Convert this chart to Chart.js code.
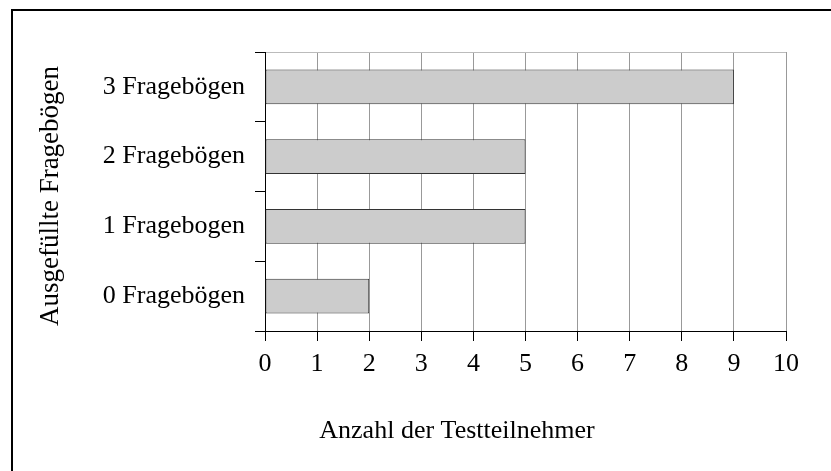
<!DOCTYPE html>
<html lang="de">
<head>
<meta charset="utf-8">
<title>Ausgefüllte Fragebögen</title>
<script src="https://cdn.jsdelivr.net/npm/chart.js@4/dist/chart.umd.min.js"></script>
<style>
    html, body { margin: 0; padding: 0; background: #fff; }
    canvas { display: block; }
</style>
</head>
<body>
<canvas id="fragebogenChart" width="831" height="471"></canvas>
<script>
// Data
const categories = ['3 Fragebögen', '2 Fragebögen', '1 Fragebogen', '0 Fragebögen'];
const participants = [9, 5, 5, 2];
const xTicks = [0, 1, 2, 3, 4, 5, 6, 7, 8, 9, 10];
const xTitle = 'Anzahl der Testteilnehmer';
const yTitle = 'Ausgefüllte Fragebögen';

const FONT = "'Times New Roman', 'Liberation Serif', serif";

// Frame (top + left edge) and the two axis titles
const framePlugin = {
    id: 'frame',
    beforeDraw(chart) {
        const ctx = chart.ctx;
        ctx.save();
        ctx.fillStyle = '#fff';
        ctx.fillRect(0, 0, chart.width, chart.height);
        ctx.fillStyle = '#000';
        ctx.fillRect(11, 9, chart.width - 11, 2);
        ctx.fillRect(11, 9, 2, chart.height - 9);
        ctx.restore();
    },
    afterDraw(chart) {
        const ctx = chart.ctx;
        ctx.save();
        ctx.fillStyle = '#000';
        ctx.textAlign = 'center';
        ctx.textBaseline = 'alphabetic';
        ctx.font = `26px ${FONT}`;
        ctx.fillText(xTitle, 457, 438);

        ctx.font = `27px ${FONT}`;
        ctx.translate(58, 196);
        ctx.rotate(-Math.PI / 2);
        ctx.fillText(yTitle, 0, 0);
        ctx.restore();
    }
};

Chart.defaults.font.family = FONT;
Chart.defaults.font.size = 26;
Chart.defaults.color = '#000';

const ctx = document.getElementById('fragebogenChart').getContext('2d');
new Chart(ctx, {
    type: 'bar',
    data: {
        labels: categories,
        datasets: [{
            data: participants,
            backgroundColor: '#cccccc',
            borderColor: '#333333',
            borderWidth: 1,
            borderSkipped: false,
            categoryPercentage: 1,
            barPercentage: 0.5
        }]
    },
    options: {
        indexAxis: 'y',
        responsive: false,
        animation: false,
        layout: {
            padding: { top: 52, right: 45, bottom: 0, left: 0 }
        },
        plugins: {
            legend: { display: false },
            tooltip: { enabled: false }
        },
        scales: {
            x: {
                min: xTicks[0],
                max: xTicks[xTicks.length - 1],
                afterBuildTicks(scale) {
                    scale.ticks = xTicks.map(v => ({ value: v }));
                },
                afterFit(scale) {
                    scale.height = 140;
                },
                grid: {
                    color: '#999999',
                    tickColor: '#000',
                    tickLength: 10,
                    lineWidth: 1
                },
                border: { color: '#000', width: 1 },
                ticks: { padding: 8, maxRotation: 0 }
            },
            y: {
                afterFit(scale) {
                    scale.width = 265;
                },
                grid: {
                    offset: true,
                    color: c => (c.index === 0 ? '#bbbbbb' : 'rgba(0,0,0,0)'),
                    tickColor: '#000',
                    tickLength: 10,
                    lineWidth: 1
                },
                border: { color: '#000', width: 1 },
                ticks: { padding: 10 }
            }
        }
    },
    plugins: [framePlugin]
});
</script>
</body>
</html>
